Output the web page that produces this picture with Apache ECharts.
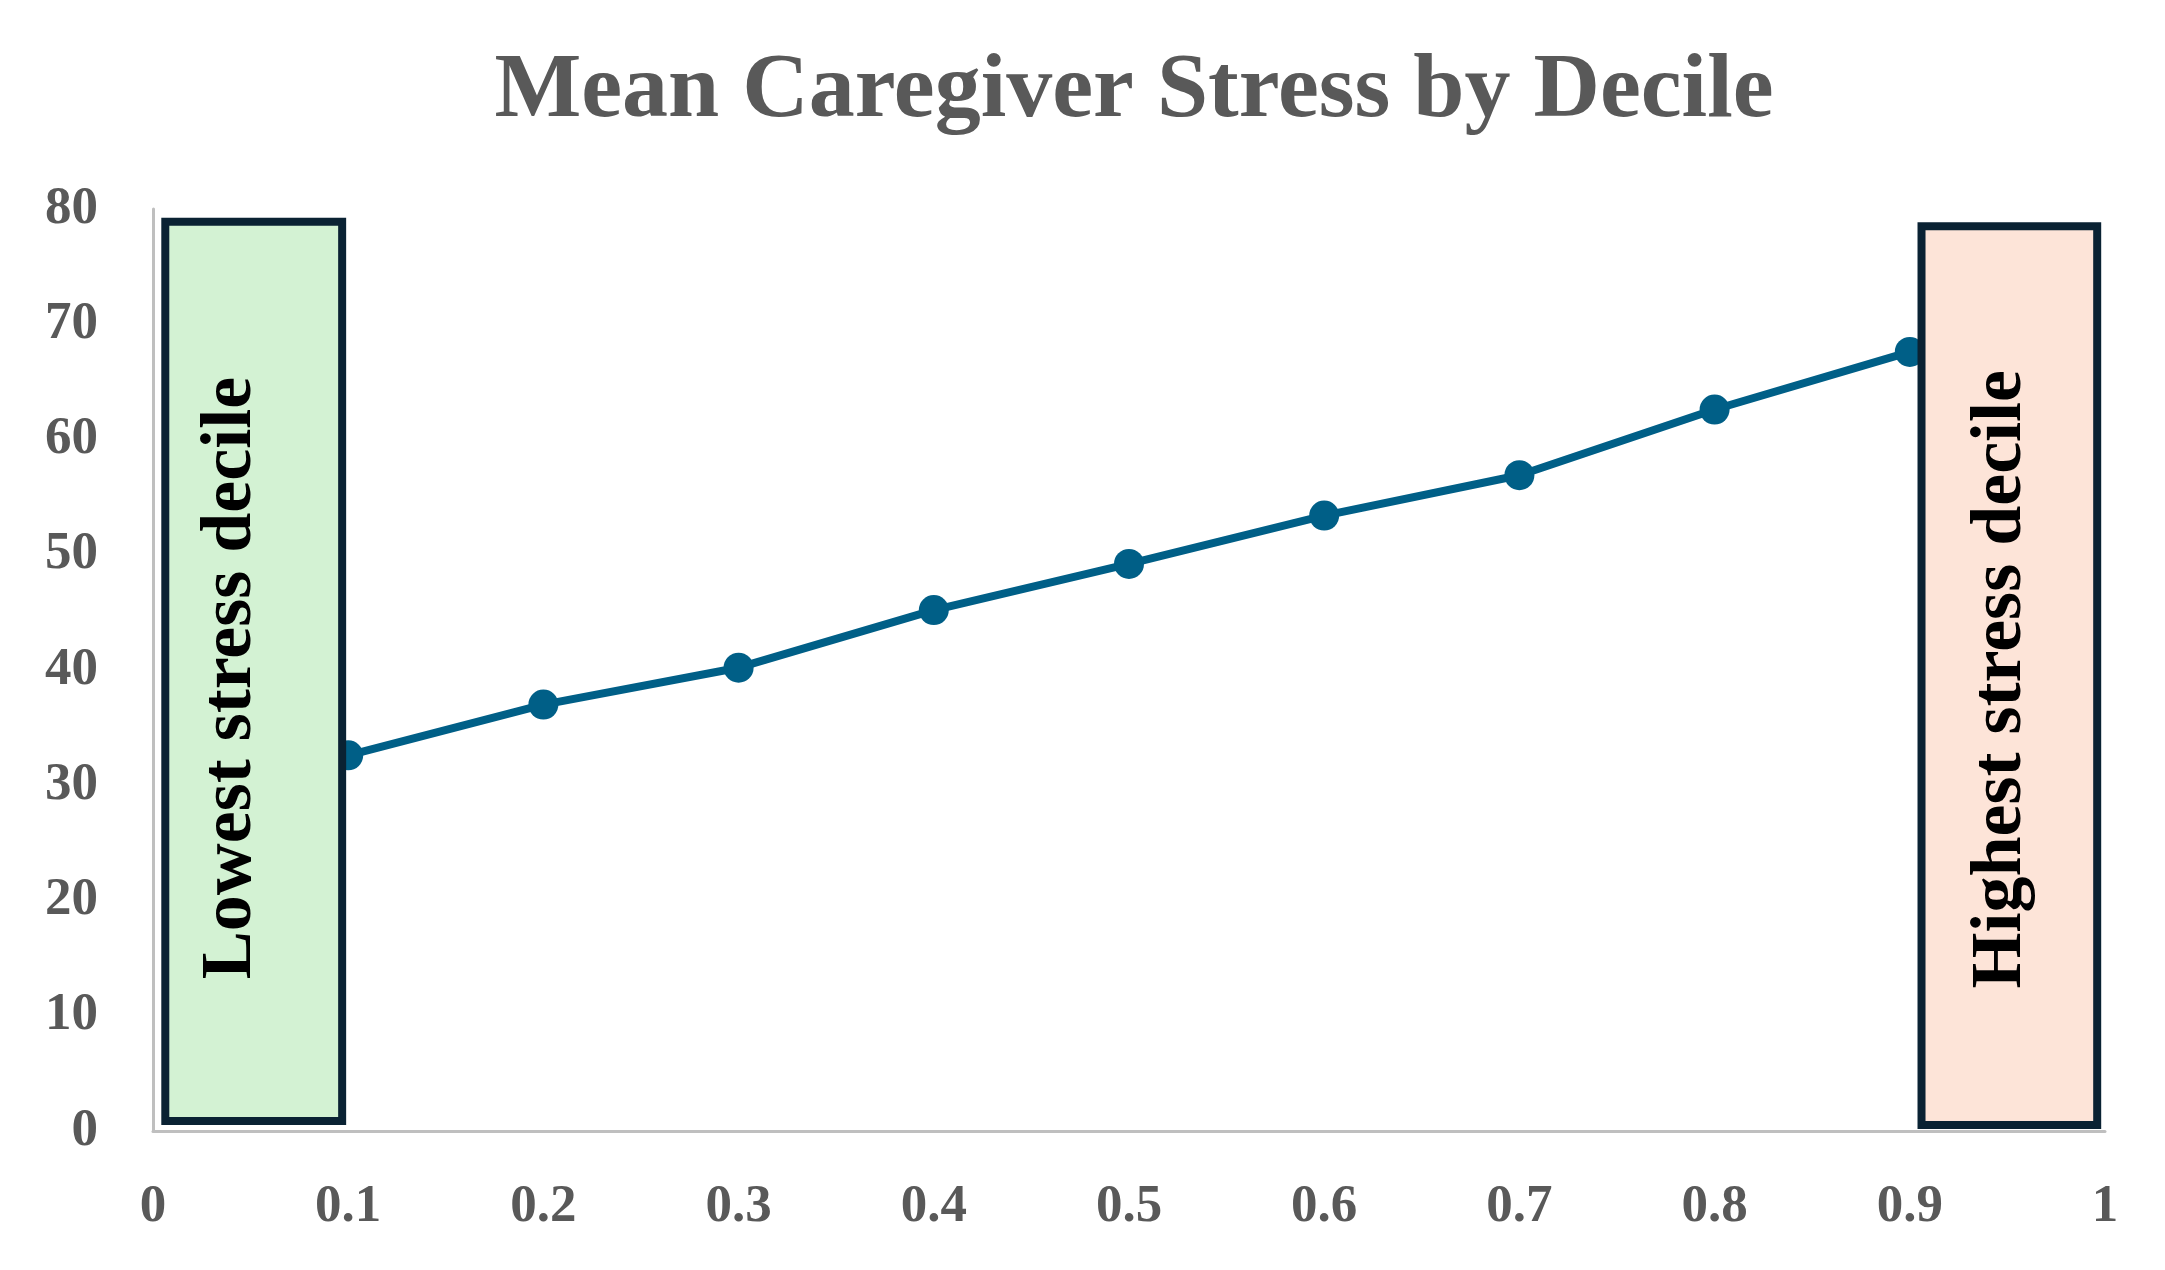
<!DOCTYPE html>
<html>
<head>
<meta charset="utf-8">
<script src="https://cdn.jsdelivr.net/npm/echarts@6/dist/echarts.min.js"></script>
<style>
  html, body { margin: 0; padding: 0; background: #ffffff; }
  #chart { width: 2165px; height: 1270px; }
</style>
</head>
<body>
<div id="chart"></div>
<script>
// ---- data ----
const chartTitle = 'Mean Caregiver Stress by Decile';
const deciles = [0.1, 0.2, 0.3, 0.4, 0.5, 0.6, 0.7, 0.8, 0.9];
const meanStress = [32.6, 37.0, 40.2, 45.2, 49.2, 53.4, 56.9, 62.6, 67.6];
// annotation boxes: [xStart, xEnd, yBottom, yTop]
const boxRanges = [[0.0063, 0.0969, 0.87, 78.9], [0.906, 0.996, 0.52, 78.5]];
const boxLabels = ['Lowest stress decile', 'Highest stress decile'];
const boxLabelAnchors = [[0.0400, 39.3], [0.947, 39.2]];
const boxFills = ['#d3f2d3', '#fde4d8'];

const FONT = "'Liberation Serif', 'Times New Roman', serif";
const chart = echarts.init(document.getElementById('chart'), null, { renderer: 'canvas' });

const lineData = deciles.map((d, i) => [d, meanStress[i]]);
const boxData = boxRanges.map((r, i) => [r[0], r[1], r[2], r[3], boxLabelAnchors[i][0], boxLabelAnchors[i][1], i]);

const option = {
  backgroundColor: '#ffffff',
  animation: false,
  title: {
    text: chartTitle,
    left: 1129,
    textAlign: 'center',
    top: 41,
    textStyle: { fontFamily: FONT, fontWeight: 'bold', fontSize: 92, color: '#595959' }
  },
  grid: { left: 153, right: 60, top: 209, bottom: 139, containLabel: false },
  xAxis: {
    type: 'value', min: 0, max: 1, interval: 0.1,
    axisLine: { show: true, lineStyle: { color: '#bfbfbf', width: 3 } },
    axisTick: { show: false },
    splitLine: { show: false },
    axisLabel: { fontFamily: FONT, fontWeight: 'bold', fontSize: 53, color: '#595959', margin: 50 }
  },
  yAxis: {
    type: 'value', min: 0, max: 80, interval: 10,
    axisLine: { show: true, lineStyle: { color: '#bfbfbf', width: 3 } },
    axisTick: { show: false },
    splitLine: { show: false },
    axisLabel: { fontFamily: FONT, fontWeight: 'bold', fontSize: 53, color: '#595959', margin: 55 }
  },
  series: [
    {
      type: 'line',
      z: 2,
      data: lineData,
      symbol: 'circle',
      symbolSize: 30,
      lineStyle: { color: '#005f87', width: 8 },
      itemStyle: { color: '#005f87' }
    },
    {
      type: 'custom',
      z: 5,
      clip: false,
      data: boxData,
      encode: { x: [0, 1], y: [2, 3] },
      renderItem: function (params, api) {
        const idx = api.value(6);
        const tl = api.coord([api.value(0), api.value(3)]);
        const br = api.coord([api.value(1), api.value(2)]);
        const lp = api.coord([api.value(4), api.value(5)]);
        return {
          type: 'group',
          children: [
            {
              type: 'rect',
              shape: { x: tl[0], y: tl[1], width: br[0] - tl[0], height: br[1] - tl[1] },
              style: { fill: boxFills[idx], stroke: '#0a2233', lineWidth: 8 }
            },
            {
              type: 'text',
              x: lp[0], y: lp[1],
              rotation: Math.PI / 2,
              style: {
                text: boxLabels[idx],
                font: 'bold 72px ' + FONT,
                fill: '#000000',
                align: 'center',
                verticalAlign: 'middle'
              }
            }
          ]
        };
      }
    }
  ]
};
chart.setOption(option);
</script>
</body>
</html>
